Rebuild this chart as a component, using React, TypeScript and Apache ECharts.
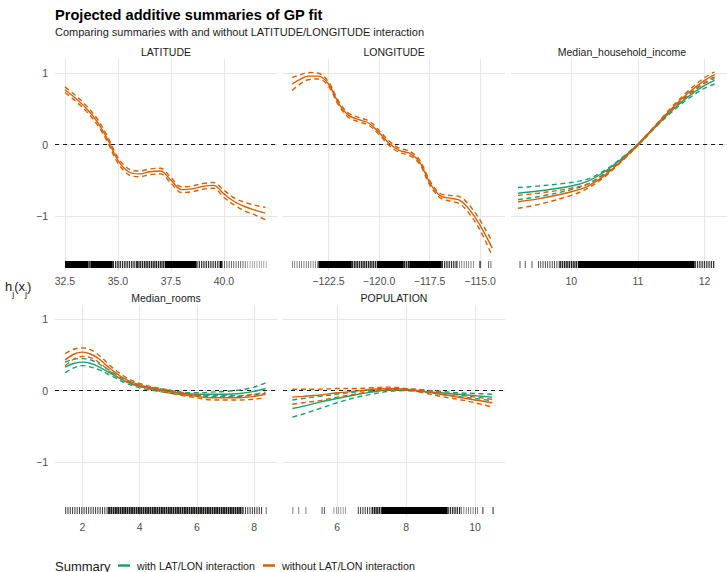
import React, { useEffect, useRef } from "react";
import * as echarts from "echarts";

const GREEN = "#1B9E77";
const ORANGE = "#D95F02";
const FONT = "'Liberation Sans', Arial, Helvetica, sans-serif";
const WITH = "with LAT/LON interaction";
const WITHOUT = "without LAT/LON interaction";

// ---------- LATITUDE ----------
const latX = [32.5, 33.0, 33.5, 34.0, 34.5, 35.0, 35.5, 36.0, 36.5, 37.0, 37.5, 38.0, 38.5, 39.0, 39.5, 40.0, 40.5, 41.0, 41.5, 41.95];
const latWithoutMean = [0.77, 0.65, 0.51, 0.33, 0.08, -0.22, -0.38, -0.41, -0.38, -0.37, -0.50, -0.63, -0.62, -0.585, -0.57, -0.69, -0.80, -0.87, -0.92, -0.96];
const latWithoutUpper = [0.81, 0.69, 0.55, 0.37, 0.12, -0.18, -0.34, -0.37, -0.34, -0.33, -0.46, -0.59, -0.58, -0.545, -0.53, -0.64, -0.75, -0.81, -0.85, -0.88];
const latWithoutLower = [0.73, 0.61, 0.47, 0.29, 0.04, -0.26, -0.42, -0.45, -0.42, -0.41, -0.54, -0.67, -0.66, -0.625, -0.61, -0.74, -0.85, -0.93, -0.99, -1.05];
// rug: [from, to, density]
const latRug = [[32.5, 33.6, 0.95], [33.6, 33.7, 0.5], [33.7, 34.75, 0.95], [34.75, 35.9, 0.6], [35.9, 37.2, 0.7], [37.2, 38.7, 0.95], [38.7, 39.8, 0.55], [39.8, 39.9, 0.9], [39.9, 41.0, 0.35], [41.0, 42.0, 0.2]];
const latTicks = [32.5, 35, 37.5, 40];

// ---------- LONGITUDE ----------
const lonX = [-124.3, -124.0, -123.5, -123.0, -122.5, -122.0, -121.5, -121.0, -120.5, -120.0, -119.5, -119.0, -118.5, -118.0, -117.5, -117.0, -116.5, -116.0, -115.5, -115.0, -114.4];
const lonWithoutMean = [0.85, 0.90, 0.96, 0.96, 0.85, 0.58, 0.41, 0.35, 0.30, 0.17, 0.02, -0.08, -0.12, -0.24, -0.53, -0.71, -0.75, -0.78, -0.92, -1.13, -1.45];
const lonWithoutUpper = [0.94, 0.97, 1.01, 1.00, 0.88, 0.61, 0.44, 0.38, 0.33, 0.20, 0.05, -0.05, -0.09, -0.21, -0.50, -0.68, -0.71, -0.73, -0.86, -1.06, -1.36];
const lonWithoutLower = [0.76, 0.83, 0.91, 0.92, 0.82, 0.55, 0.38, 0.32, 0.27, 0.14, -0.01, -0.11, -0.15, -0.27, -0.56, -0.74, -0.79, -0.83, -0.98, -1.20, -1.56];
const lonRug = [[-124.3, -123.0, 0.3], [-123.0, -121.35, 0.95], [-121.35, -120.1, 0.7], [-120.1, -118.8, 0.95], [-118.8, -118.5, 0.75], [-118.5, -116.9, 0.95], [-116.9, -116.15, 0.55], [-116.15, -115.3, 0.3], [-115.05, -114.95, 0.4], [-114.6, -114.4, 0.35]];
const lonTicks = [-122.5, -120, -117.5, -115];

// ---------- Median_household_income ----------
const incX = [9.2, 9.5, 10.0, 10.25, 10.5, 10.75, 11.0, 11.25, 11.5, 11.75, 12.0, 12.15];
const incWithMean = [-0.68, -0.65, -0.58, -0.51, -0.38, -0.20, 0.0, 0.24, 0.47, 0.67, 0.83, 0.90];
const incWithUpper = [-0.60, -0.58, -0.53, -0.48, -0.36, -0.19, 0.01, 0.25, 0.49, 0.70, 0.87, 0.95];
const incWithLower = [-0.77, -0.73, -0.63, -0.55, -0.40, -0.21, -0.01, 0.23, 0.45, 0.64, 0.79, 0.85];
const incWithoutMean = [-0.80, -0.76, -0.66, -0.58, -0.43, -0.23, 0.0, 0.25, 0.50, 0.72, 0.90, 0.98];
const incWithoutUpper = [-0.71, -0.68, -0.61, -0.55, -0.41, -0.22, 0.01, 0.26, 0.52, 0.75, 0.94, 1.02];
const incWithoutLower = [-0.89, -0.84, -0.71, -0.61, -0.45, -0.24, -0.01, 0.24, 0.48, 0.69, 0.86, 0.93];
const incRug = [[9.22, 9.24, 0.3], [9.3, 9.32, 0.3], [9.4, 9.42, 0.3], [9.5, 9.82, 0.4], [9.82, 10.1, 0.7], [10.1, 11.85, 1.0], [11.85, 12.15, 0.55]];
const incTicks = [10, 11, 12];

// ---------- Median_rooms ----------
const roomX = [1.4, 1.7, 2.0, 2.3, 2.6, 3.0, 3.5, 4.0, 4.5, 5.0, 5.5, 6.0, 6.5, 7.0, 7.5, 8.0, 8.4];
const roomWithMean = [0.33, 0.38, 0.40, 0.38, 0.33, 0.24, 0.13, 0.06, 0.02, -0.01, -0.04, -0.05, -0.05, -0.05, -0.04, -0.01, 0.03];
const roomWithUpper = [0.40, 0.44, 0.45, 0.43, 0.37, 0.27, 0.15, 0.08, 0.04, 0.01, -0.02, -0.03, -0.02, -0.01, 0.01, 0.05, 0.11];
const roomWithLower = [0.25, 0.32, 0.35, 0.33, 0.29, 0.21, 0.11, 0.04, 0.00, -0.03, -0.06, -0.07, -0.08, -0.08, -0.08, -0.06, -0.04];
const roomWithoutMean = [0.43, 0.51, 0.54, 0.51, 0.44, 0.30, 0.16, 0.08, 0.03, -0.01, -0.05, -0.08, -0.10, -0.10, -0.10, -0.08, -0.05];
const roomWithoutUpper = [0.52, 0.58, 0.60, 0.57, 0.49, 0.34, 0.19, 0.10, 0.05, 0.01, -0.03, -0.06, -0.07, -0.07, -0.07, -0.05, -0.02];
const roomWithoutLower = [0.35, 0.44, 0.48, 0.46, 0.39, 0.26, 0.13, 0.06, 0.01, -0.03, -0.07, -0.10, -0.13, -0.13, -0.13, -0.12, -0.10];
const roomRug = [[1.4, 2.9, 0.45], [2.9, 7.6, 0.8], [7.6, 8.3, 0.45], [8.4, 8.45, 0.2]];
const roomTicks = [2, 4, 6, 8];

// ---------- POPULATION ----------
const popX = [4.7, 5.0, 5.5, 6.0, 6.5, 7.0, 7.5, 8.0, 8.5, 9.0, 9.5, 10.0, 10.5];
const popWithMean = [-0.25, -0.22, -0.16, -0.11, -0.06, -0.02, 0.01, 0.01, -0.01, -0.03, -0.05, -0.07, -0.09];
const popWithUpper = [-0.13, -0.11, -0.08, -0.05, -0.02, 0.01, 0.02, 0.02, 0.01, -0.01, -0.03, -0.04, -0.05];
const popWithLower = [-0.37, -0.33, -0.25, -0.17, -0.10, -0.05, -0.01, 0.00, -0.02, -0.05, -0.08, -0.11, -0.14];
const popWithoutMean = [-0.09, -0.08, -0.06, -0.03, -0.01, 0.02, 0.03, 0.02, -0.01, -0.05, -0.09, -0.13, -0.17];
const popWithoutUpper = [0.02, 0.02, 0.02, 0.03, 0.03, 0.04, 0.05, 0.03, 0.01, -0.03, -0.06, -0.09, -0.12];
const popWithoutLower = [-0.19, -0.17, -0.14, -0.09, -0.05, -0.01, 0.01, 0.01, -0.03, -0.08, -0.12, -0.17, -0.23];
const popRug = [[4.7, 4.73, 0.3], [4.87, 4.9, 0.3], [5.08, 5.11, 0.3], [5.55, 5.68, 0.4], [5.9, 6.3, 0.25], [6.6, 7.0, 0.45], [7.0, 7.3, 0.75], [7.3, 9.2, 1.0], [9.2, 9.6, 0.6], [9.6, 10.1, 0.3], [10.2, 10.25, 0.3], [10.5, 10.55, 0.3]];
const popTicks = [6, 8, 10];

const yTicks = [-1, 0, 1];

const minus = (s: string) => s.replace("-", "\u2212");
const fmt1 = (v: number) => minus(v.toFixed(1));
const fmt0 = (v: number) => minus(String(v));

type Curve = { name: string; color: string; mean: number[]; upper: number[]; lower: number[] };
type Panel = { title: string; x: number[]; curves: Curve[]; rug: number[][]; ticks: number[]; fmt: (v: number) => string };

const panels: Panel[] = [
  { title: "LATITUDE", x: latX, rug: latRug, ticks: latTicks, fmt: fmt1,
    curves: [{ name: WITHOUT, color: ORANGE, mean: latWithoutMean, upper: latWithoutUpper, lower: latWithoutLower }] },
  { title: "LONGITUDE", x: lonX, rug: lonRug, ticks: lonTicks, fmt: fmt1,
    curves: [{ name: WITHOUT, color: ORANGE, mean: lonWithoutMean, upper: lonWithoutUpper, lower: lonWithoutLower }] },
  { title: "Median_household_income", x: incX, rug: incRug, ticks: incTicks, fmt: fmt0,
    curves: [
      { name: WITH, color: GREEN, mean: incWithMean, upper: incWithUpper, lower: incWithLower },
      { name: WITHOUT, color: ORANGE, mean: incWithoutMean, upper: incWithoutUpper, lower: incWithoutLower }] },
  { title: "Median_rooms", x: roomX, rug: roomRug, ticks: roomTicks, fmt: fmt0,
    curves: [
      { name: WITH, color: GREEN, mean: roomWithMean, upper: roomWithUpper, lower: roomWithLower },
      { name: WITHOUT, color: ORANGE, mean: roomWithoutMean, upper: roomWithoutUpper, lower: roomWithoutLower }] },
  { title: "POPULATION", x: popX, rug: popRug, ticks: popTicks, fmt: fmt0,
    curves: [
      { name: WITH, color: GREEN, mean: popWithMean, upper: popWithUpper, lower: popWithLower },
      { name: WITHOUT, color: ORANGE, mean: popWithoutMean, upper: popWithoutUpper, lower: popWithoutLower }] },
];

// layout of the facet panels (pixels) and axis extents
const PW = 222;
const PH = 212;
const layout = [
  { left: 55, top: 59, xmin: 32.03, xmax: 42.5 },
  { left: 283, top: 59, xmin: -124.75, xmax: -113.77 },
  { left: 511, top: 59, xmin: 9.095, xmax: 12.336 },
  { left: 55, top: 305, xmin: 1.045, xmax: 8.8 },
  { left: 283, top: 305, xmin: 4.43, xmax: 10.87 },
];
const YMIN = -1.77;
const YMAX = 1.2;

function buildOption() {
  const grid: any[] = [];
  const xAxis: any[] = [];
  const yAxis: any[] = [];
  const series: any[] = [];
  const graphic: any[] = [];

  panels.forEach((p, i) => {
    const L = layout[i];
    grid.push({ left: L.left, top: L.top, width: PW, height: PH, containLabel: false });
    xAxis.push({
      type: "value", gridIndex: i, min: L.xmin, max: L.xmax,
      axisLine: { show: false },
      axisTick: { show: false, customValues: p.ticks },
      axisLabel: { customValues: p.ticks, formatter: (v: number) => p.fmt(v), color: "#4d4d4d", fontSize: 10.5, fontFamily: FONT, margin: 4 },
      splitLine: { show: true, lineStyle: { color: "#e6e6e6", width: 1.1 } },
    });
    yAxis.push({
      type: "value", gridIndex: i, min: YMIN, max: YMAX,
      axisLine: { show: false },
      axisTick: { show: false, customValues: yTicks },
      axisLabel: { show: i === 0 || i === 3, customValues: yTicks, formatter: (v: number) => fmt0(v), color: "#4d4d4d", fontSize: 10.5, fontFamily: FONT, margin: 7 },
      splitLine: { show: true, lineStyle: { color: "#e6e6e6", width: 1.1 } },
    });
    graphic.push({
      type: "text", x: L.left + PW / 2, y: L.top - 7,
      style: { text: p.title, fill: "#1a1a1a", font: `10.5px ${FONT}`, align: "center", verticalAlign: "middle" },
    });

    // rug: each interval drawn as fine tick marks whose thickness follows density
    series.push({
      type: "custom", xAxisIndex: i, yAxisIndex: i, silent: true, z: 1,
      data: p.rug,
      encode: { x: [0, 1], y: 2 },
      renderItem: (params: any, api: any) => {
        const x0 = api.coord([api.value(0), 0])[0];
        const x1 = api.coord([api.value(1), 0])[0];
        const d = api.value(2);
        const cs = params.coordSys;
        const top = cs.y + cs.height - 10;
        const h = 7;
        const span = x1 - x0;
        if (d >= 0.9) {
          return { type: "rect", shape: { x: x0, y: top, width: Math.max(span, 0.8), height: h }, style: { fill: "#000" } };
        }
        const step = 2.3;
        if (span < step) {
          return { type: "rect", shape: { x: x0, y: top, width: Math.max(span, 0.8), height: h }, style: { fill: "#000", opacity: Math.min(1, d + 0.2) } };
        }
        const children: any[] = [];
        const w = Math.max(0.5, step * d);
        for (let xx = x0; xx < x1; xx += step) {
          children.push({ type: "rect", shape: { x: xx, y: top, width: Math.min(w, x1 - xx), height: h }, style: { fill: "#000", opacity: 0.55 + 0.45 * d } });
        }
        return { type: "group", children };
      },
    });

    p.curves.forEach((c, ci) => {
      const pts = (arr: number[]) => p.x.map((xv, k) => [xv, arr[k]]);
      const base = {
        type: "line", xAxisIndex: i, yAxisIndex: i, symbol: "none", smooth: 0.35,
        silent: true, color: c.color, z: 3 + ci,
      };
      series.push({ ...base, name: c.name + " (lower)", data: pts(c.lower), lineStyle: { color: c.color, width: 1.4, type: [5, 3.5] } });
      series.push({ ...base, name: c.name + " (upper)", data: pts(c.upper), lineStyle: { color: c.color, width: 1.4, type: [5, 3.5] } });
      const mean: any = { ...base, name: c.name, data: pts(c.mean), lineStyle: { color: c.color, width: 1.4 } };
      if (ci === 0) {
        mean.markLine = {
          silent: true, symbol: ["none", "none"], label: { show: false },
          lineStyle: { color: "#000", type: [4, 4], width: 0.9 },
          data: [{ yAxis: 0 }],
          z: 2,
        };
      }
      series.push(mean);
    });
  });

  graphic.push(
    { type: "text", x: 55, y: 14.5, style: { text: "Projected additive summaries of GP fit", fill: "#000", font: `bold 14.6px ${FONT}`, verticalAlign: "middle" } },
    { type: "text", x: 55, y: 32, style: { text: "Comparing summaries with and without LATITUDE/LONGITUDE interaction", fill: "#1a1a1a", font: `11px ${FONT}`, verticalAlign: "middle" } },
    {
      type: "text", x: 5, y: 280,
      style: {
        text: "{a|h}{b|j}{a|(x}{b|j}{a|)}",
        rich: {
          a: { fontSize: 13, fontFamily: FONT, fill: "#1a1a1a", lineHeight: 18, verticalAlign: "top" },
          b: { fontSize: 9, fontFamily: FONT, fill: "#1a1a1a", lineHeight: 18, verticalAlign: "bottom" },
        },
      },
    },
    { type: "text", x: 55, y: 566, style: { text: "Summary", fill: "#1a1a1a", font: `13px ${FONT}`, verticalAlign: "middle" } },
  );

  return {
    animation: false,
    backgroundColor: "#fff",
    grid, xAxis, yAxis, series, graphic,
    legend: {
      left: 118, top: 560, padding: 0, icon: "rect", itemWidth: 12, itemHeight: 2.5, itemGap: 8,
      selectedMode: false,
      textStyle: { fontSize: 10.7, color: "#1a1a1a", fontFamily: FONT, padding: [0, 0, 0, 2] },
      data: [{ name: WITH }, { name: WITHOUT }],
    },
  };
}

export default function App() {
  const ref = useRef<HTMLDivElement>(null);
  useEffect(() => {
    if (!ref.current) return;
    const chart = echarts.init(ref.current, undefined, { renderer: "svg" });
    chart.setOption(buildOption() as any);
    return () => chart.dispose();
  }, []);
  return <div ref={ref} style={{ position: "absolute", left: 0, top: 0, width: 727, height: 572 }} />;
}
